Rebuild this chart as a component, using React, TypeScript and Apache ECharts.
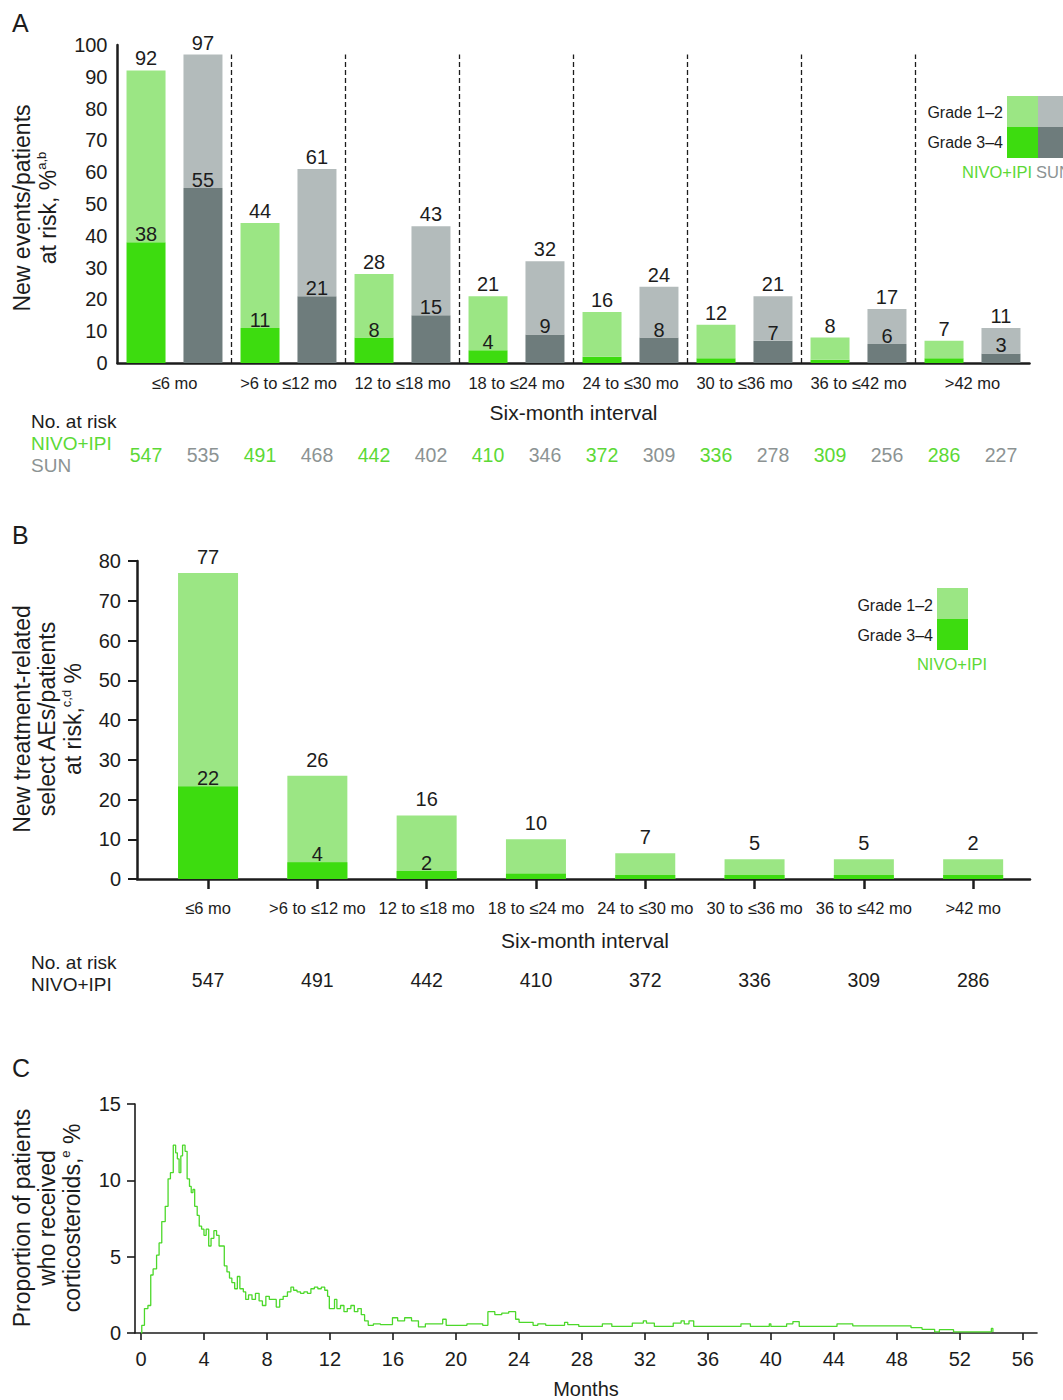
import React, { useEffect, useRef } from "react";
import * as echarts from "echarts";

const intervals = ["≤6 mo", ">6 to ≤12 mo", "12 to ≤18 mo", "18 to ≤24 mo", "24 to ≤30 mo", "30 to ≤36 mo", "36 to ≤42 mo", ">42 mo"];
const aNivoTotal = [92, 44, 28, 21, 16, 12, 8, 7];
const aNivoG34 = [38, 11, 8, 4, 2, 1.5, 1, 1.5];
const aNivoG34Shown = [true, true, true, true, false, false, false, false];
const aSunTotal = [97, 61, 43, 32, 24, 21, 17, 11];
const aSunG34 = [55, 21, 15, 9, 8, 7, 6, 3];
const aNivoAtRisk = [547, 491, 442, 410, 372, 336, 309, 286];
const aSunAtRisk = [535, 468, 402, 346, 309, 278, 256, 227];
const aYTicks = { min: 0, max: 100, interval: 10 };

const bTotal = [77, 26, 16, 10, 6.5, 5, 5, 5];
const bTotalLabels = ["77", "26", "16", "10", "7", "5", "5", "2"];
const bG34 = [23.3, 4.2, 2, 1.3, 1, 1, 1, 1];
const bG34Labels = ["22", "4", "2", "", "", "", "", ""];
const bAtRisk = [547, 491, 442, 410, 372, 336, 309, 286];
const bPositions = [0, 1, 2, 3, 4, 5, 6, 7];

const cMonthTicks = [0, 4, 8, 12, 16, 20, 24, 28, 32, 36, 40, 44, 48, 52, 56];
const cMonths = [0, 0.05, 0.22, 0.44, 0.62, 0.77, 0.99, 1.15, 1.32, 1.54, 1.72, 1.87, 2.05, 2.2, 2.31, 2.42, 2.53, 2.64, 2.8, 2.93, 3.08, 3.19, 3.3, 3.41, 3.57, 3.7, 3.85, 4.0, 4.14, 4.3, 4.45, 4.63, 4.8, 4.96, 5.1, 5.29, 5.46, 5.62, 5.77, 5.95, 6.12, 6.28, 6.5, 6.65, 6.83, 7.05, 7.27, 7.5, 7.71, 7.93, 8.15, 8.37, 8.59, 8.81, 9.03, 9.3, 9.52, 9.69, 9.91, 10.13, 10.35, 10.57, 10.79, 11.01, 11.23, 11.45, 11.67, 11.85, 11.96, 12.11, 12.29, 12.44, 12.67, 12.89, 13.1, 13.33, 13.55, 13.77, 13.99, 14.2, 14.43, 14.76, 15.2, 15.64, 15.97, 16.3, 16.74, 17.18, 17.62, 18.06, 18.7, 19.16, 19.38, 20.04, 20.7, 21.26, 21.7, 22.03, 22.47, 22.91, 23.35, 23.79, 24.01, 24.45, 24.9, 25.2, 25.7, 26.9, 27.1, 27.8, 29.3, 29.9, 31.2, 31.9, 32.1, 32.6, 33.8, 34.3, 34.5, 34.8, 35.1, 38.1, 38.7, 39.9, 40.0, 41.0, 41.4, 41.8, 44.2, 45.2, 48.9, 49.6, 50.4, 50.7, 51.6, 53.9, 54.0, 54.1];
const cPct = [0, 0.5, 1.6, 1.8, 3.8, 4.2, 5.1, 5.9, 7.3, 8.3, 10.1, 10.5, 12.3, 11.8, 11.4, 10.5, 11.6, 12.3, 11.9, 10.1, 9.6, 9.2, 9.4, 8.3, 7.7, 7.0, 6.8, 6.4, 6.8, 5.7, 6.2, 6.7, 6.4, 5.7, 5.7, 4.4, 4.0, 3.6, 3.3, 2.9, 3.7, 2.9, 2.7, 2.2, 2.5, 2.2, 2.6, 2.1, 1.8, 2.4, 2.2, 2.2, 1.7, 2.2, 2.4, 2.7, 3.0, 2.8, 2.7, 2.6, 2.7, 2.6, 2.9, 3.0, 2.9, 3.0, 2.8, 2.4, 1.6, 1.6, 2.2, 1.6, 1.8, 1.4, 1.6, 1.8, 1.4, 1.6, 1.2, 0.8, 0.5, 0.6, 0.55, 0.55, 1.0, 0.8, 1.0, 0.8, 0.4, 0.6, 0.6, 0.9, 0.5, 0.5, 0.6, 0.6, 0.5, 1.4, 1.2, 1.3, 1.4, 0.9, 0.7, 0.7, 0.5, 0.6, 0.5, 0.7, 0.55, 0.43, 0.6, 0.43, 0.65, 0.8, 0.65, 0.43, 0.65, 0.8, 0.6, 0.8, 0.43, 0.6, 0.43, 0.6, 0.43, 0.6, 0.75, 0.43, 0.6, 0.47, 0.35, 0.24, 0.07, 0.22, 0.07, 0.07, 0.3, 0.07];

const FONT = "'Liberation Sans', Arial, Helvetica, sans-serif";
const LG = "#9be684";
const DG = "#3ddc0f";
const LS = "#b3bbbb";
const DS = "#6e7c7c";
const GREEN_TXT = "#5cd936";
const GRAY_TXT = "#8c9393";
const INK = "#1c1c1c";

const TITLE = 23;
const TICK = 20;
const CAT = 16.5;
const BARLBL = 20;
const RISK = 19.5;

function txt(x: number, y: number, text: string, size: number, fill = INK, align = "left") {
  return {
    type: "text",
    x,
    y,
    silent: true,
    style: {
      text,
      fontSize: size,
      fontFamily: FONT,
      fill,
      align,
      textAlign: align,
      verticalAlign: "middle",
      textVerticalAlign: "middle",
    },
  };
}

function rotTitle(x: number, y: number, text: string, size: number, rich?: any) {
  return {
    type: "text",
    x,
    y,
    rotation: Math.PI / 2,
    silent: true,
    style: {
      text,
      fontSize: size,
      fontFamily: FONT,
      fill: INK,
      align: "center",
      textAlign: "center",
      verticalAlign: "middle",
      textVerticalAlign: "middle",
      lineHeight: size + 4,
      rich: rich || {},
    },
  };
}

const supRich = (size: number) => ({
  sup: { fontSize: 13, fontFamily: FONT, fill: INK, verticalAlign: "top", lineHeight: size + 4 },
});

export default function App() {
  const ref = useRef<HTMLDivElement>(null);
  useEffect(() => {
    if (!ref.current) return;
    const chart = echarts.init(ref.current, undefined, { renderer: "svg" });

    const aAtRiskInterleaved: string[] = [];
    intervals.forEach((_, i) => {
      aAtRiskInterleaved.push(String(aNivoAtRisk[i]));
      aAtRiskInterleaved.push(String(aSunAtRisk[i]));
    });

    const axisLineBold = { show: true, onZero: false, lineStyle: { color: INK, width: 2.5 } };
    const axisLineThin = { show: true, onZero: false, lineStyle: { color: INK, width: 1.6 } };

    const option: any = {
      animation: false,
      textStyle: { fontFamily: FONT },
      grid: [
        { left: 117.5, right: 33.5, top: 45, height: 318 },
        { left: 137, right: 33, top: 561, height: 318 },
        { left: 135, right: 26, top: 1104, height: 231 },
      ],
      xAxis: [
        {
          gridIndex: 0,
          type: "category",
          data: intervals,
          axisLine: axisLineBold,
          axisTick: { show: false },
          axisLabel: { interval: 0, fontSize: CAT, color: INK, margin: 11, fontFamily: FONT },
          name: "Six-month interval",
          nameLocation: "middle",
          nameGap: 39,
          nameTextStyle: { fontSize: 21, color: INK, fontFamily: FONT },
        },
        {
          gridIndex: 0,
          type: "category",
          position: "bottom",
          offset: 74,
          data: aAtRiskInterleaved,
          axisLine: { show: false, onZero: false },
          axisTick: { show: false },
          axisLabel: {
            interval: 0,
            fontSize: RISK,
            fontFamily: FONT,
            formatter: (v: string, i: number) => (i % 2 === 0 ? `{g|${v}}` : `{s|${v}}`),
            rich: {
              g: { color: GREEN_TXT, fontSize: RISK, fontFamily: FONT },
              s: { color: GRAY_TXT, fontSize: RISK, fontFamily: FONT },
            },
          },
        },
        {
          gridIndex: 0,
          type: "value",
          min: 0,
          max: 8,
          show: false,
          axisLine: { show: false, onZero: false },
        },
        {
          gridIndex: 1,
          type: "value",
          min: -0.65,
          max: 7.52,
          axisLine: axisLineBold,
          splitLine: { show: false },
          axisTick: { show: true, customValues: bPositions, length: 10, lineStyle: { color: INK, width: 2.5 } },
          axisLabel: {
            customValues: bPositions,
            formatter: (v: number) => {
              const i = Math.round(v);
              return `{a|${intervals[i] ?? ""}}\n{b|${bAtRisk[i] ?? ""}}`;
            },
            margin: 20,
            rich: {
              a: { fontSize: CAT, color: INK, fontFamily: FONT, lineHeight: 18 },
              b: { fontSize: RISK, color: INK, fontFamily: FONT, lineHeight: 126 },
            },
          },
        },
        {
          gridIndex: 2,
          type: "value",
          min: -0.38,
          max: 56.9,
          axisLine: axisLineThin,
          splitLine: { show: false },
          axisTick: { show: true, customValues: cMonthTicks, length: 7, lineStyle: { color: INK, width: 1.6 } },
          axisLabel: { customValues: cMonthTicks, fontSize: TICK, color: INK, margin: 16, fontFamily: FONT },
          name: "Months",
          nameLocation: "middle",
          nameGap: 46,
          nameTextStyle: { fontSize: 20, color: INK, fontFamily: FONT },
        },
      ],
      yAxis: [
        {
          gridIndex: 0,
          type: "value",
          min: aYTicks.min,
          max: aYTicks.max,
          interval: aYTicks.interval,
          axisLine: axisLineBold,
          axisTick: { show: false },
          splitLine: { show: false },
          axisLabel: { fontSize: TICK, color: INK, margin: 10, fontFamily: FONT },
        },
        {
          gridIndex: 1,
          type: "value",
          min: 0,
          max: 80,
          interval: 10,
          axisLine: axisLineBold,
          axisTick: { show: true, length: 9, lineStyle: { color: INK, width: 2 } },
          splitLine: { show: false },
          axisLabel: { fontSize: TICK, color: INK, margin: 16, fontFamily: FONT },
        },
        {
          gridIndex: 2,
          type: "value",
          min: 0,
          max: 15,
          interval: 5,
          axisLine: axisLineThin,
          axisTick: { show: true, length: 8, lineStyle: { color: INK, width: 1.6 } },
          splitLine: { show: false },
          axisLabel: { fontSize: TICK, color: INK, margin: 14, fontFamily: FONT },
        },
      ],
      series: [
        {
          type: "bar",
          xAxisIndex: 0,
          yAxisIndex: 0,
          stack: "nivo",
          barWidth: 39,
          barGap: "46%",
          data: aNivoG34.map((v, i) => ({
            value: v,
            label: { show: aNivoG34Shown[i] },
          })),
          itemStyle: { color: DG },
          label: { position: "top", distance: -2, fontSize: BARLBL, color: INK, fontFamily: FONT },
        },
        {
          type: "bar",
          xAxisIndex: 0,
          yAxisIndex: 0,
          stack: "nivo",
          barWidth: 39,
          barGap: "46%",
          data: aNivoTotal.map((t, i) => t - aNivoG34[i]),
          itemStyle: { color: LG },
          label: {
            show: true,
            position: "top",
            distance: 2,
            fontSize: BARLBL,
            color: INK,
            fontFamily: FONT,
            formatter: (p: any) => String(aNivoTotal[p.dataIndex]),
          },
        },
        {
          type: "bar",
          xAxisIndex: 0,
          yAxisIndex: 0,
          stack: "sun",
          barWidth: 39,
          barGap: "46%",
          data: aSunG34,
          itemStyle: { color: DS },
          label: { show: true, position: "top", distance: -2, fontSize: BARLBL, color: INK, fontFamily: FONT },
        },
        {
          type: "bar",
          xAxisIndex: 0,
          yAxisIndex: 0,
          stack: "sun",
          barWidth: 39,
          barGap: "46%",
          data: aSunTotal.map((t, i) => t - aSunG34[i]),
          itemStyle: { color: LS },
          label: {
            show: true,
            position: "top",
            distance: 2,
            fontSize: BARLBL,
            color: INK,
            fontFamily: FONT,
            formatter: (p: any) => String(aSunTotal[p.dataIndex]),
          },
        },
        {
          type: "line",
          xAxisIndex: 2,
          yAxisIndex: 0,
          data: [[0, 0]],
          showSymbol: false,
          symbol: "none",
          lineStyle: { opacity: 0 },
          silent: true,
          markLine: {
            silent: true,
            symbol: ["none", "none"],
            label: { show: false },
            lineStyle: { type: [5, 3], color: INK, width: 1.3 },
            data: [1, 2, 3, 4, 5, 6, 7].map((k) => [
              { coord: [k, 0] },
              { coord: [k, 97] },
            ]),
          },
        },
        {
          type: "bar",
          xAxisIndex: 3,
          yAxisIndex: 1,
          barWidth: 60,
          barGap: "-100%",
          data: bTotal.map((v, i) => [bPositions[i], v]),
          itemStyle: { color: LG },
          label: {
            show: true,
            position: "top",
            distance: 6,
            fontSize: BARLBL,
            color: INK,
            fontFamily: FONT,
            formatter: (p: any) => bTotalLabels[p.dataIndex],
          },
        },
        {
          type: "bar",
          xAxisIndex: 3,
          yAxisIndex: 1,
          barWidth: 60,
          barGap: "-100%",
          data: bG34.map((v, i) => ({ value: [bPositions[i], v], label: { show: bG34Labels[i] !== "" } })),
          itemStyle: { color: DG },
          label: {
            position: "top",
            distance: -2,
            fontSize: BARLBL,
            color: INK,
            fontFamily: FONT,
            formatter: (p: any) => bG34Labels[p.dataIndex],
          },
        },
        {
          type: "line",
          xAxisIndex: 4,
          yAxisIndex: 2,
          step: "end",
          showSymbol: false,
          symbol: "none",
          data: cMonths.map((m, i) => [m, cPct[i]]),
          lineStyle: { color: "#4cd82a", width: 1.3 },
          itemStyle: { color: "#4cd82a" },
        },
      ],
      graphic: [
        txt(12, 23, "A", 25),
        txt(12, 535, "B", 25),
        txt(12, 1068, "C", 25),
        rotTitle(22, 208, "New events/patients", TITLE),
        rotTitle(48, 208, "at risk, %{sup|a,b}", TITLE, supRich(TITLE)),
        rotTitle(22, 719, "New treatment-related", TITLE),
        rotTitle(47, 719, "select AEs/patients", TITLE),
        rotTitle(73, 719, "at risk,{sup|c,d} %", TITLE, supRich(TITLE)),
        rotTitle(22, 1218, "Proportion of patients", TITLE),
        rotTitle(47, 1218, "who received", TITLE),
        rotTitle(72, 1218, "corticosteroids,{sup|e} %", TITLE, supRich(TITLE)),
        // Panel B x-axis name
        txt(585, 940, "Six-month interval", 21, INK, "center"),
        // Panel A at-risk labels
        txt(31, 421, "No. at risk", 19),
        txt(31, 443, "NIVO+IPI", 19, GREEN_TXT),
        txt(31, 465, "SUN", 19, GRAY_TXT),
        // Panel B at-risk labels
        txt(31, 962, "No. at risk", 19),
        txt(31, 984, "NIVO+IPI", 19),
        // Legend A
        txt(1003, 112, "Grade 1–2", 16, INK, "right"),
        txt(1003, 142, "Grade 3–4", 16, INK, "right"),
        { type: "rect", shape: { x: 1007, y: 96, width: 31, height: 31 }, style: { fill: LG }, silent: true },
        { type: "rect", shape: { x: 1007, y: 127, width: 31, height: 31 }, style: { fill: DG }, silent: true },
        { type: "rect", shape: { x: 1038, y: 96, width: 31, height: 31 }, style: { fill: LS }, silent: true },
        { type: "rect", shape: { x: 1038, y: 127, width: 31, height: 31 }, style: { fill: DS }, silent: true },
        txt(962, 172, "NIVO+IPI", 16.5, GREEN_TXT),
        txt(1036, 172, "SUN", 16.5, GRAY_TXT),
        // Legend B
        txt(933, 605, "Grade 1–2", 16, INK, "right"),
        txt(933, 635, "Grade 3–4", 16, INK, "right"),
        { type: "rect", shape: { x: 937, y: 588, width: 31, height: 31 }, style: { fill: LG }, silent: true },
        { type: "rect", shape: { x: 937, y: 619, width: 31, height: 31 }, style: { fill: DG }, silent: true },
        txt(952, 664, "NIVO+IPI", 16.5, GREEN_TXT, "center"),
      ],
    };

    chart.setOption(option);
    return () => chart.dispose();
  }, []);

  return (
    <div
      ref={ref}
      style={{ position: "absolute", left: 0, top: 0, width: 1063, height: 1400, background: "#fff" }}
    />
  );
}
